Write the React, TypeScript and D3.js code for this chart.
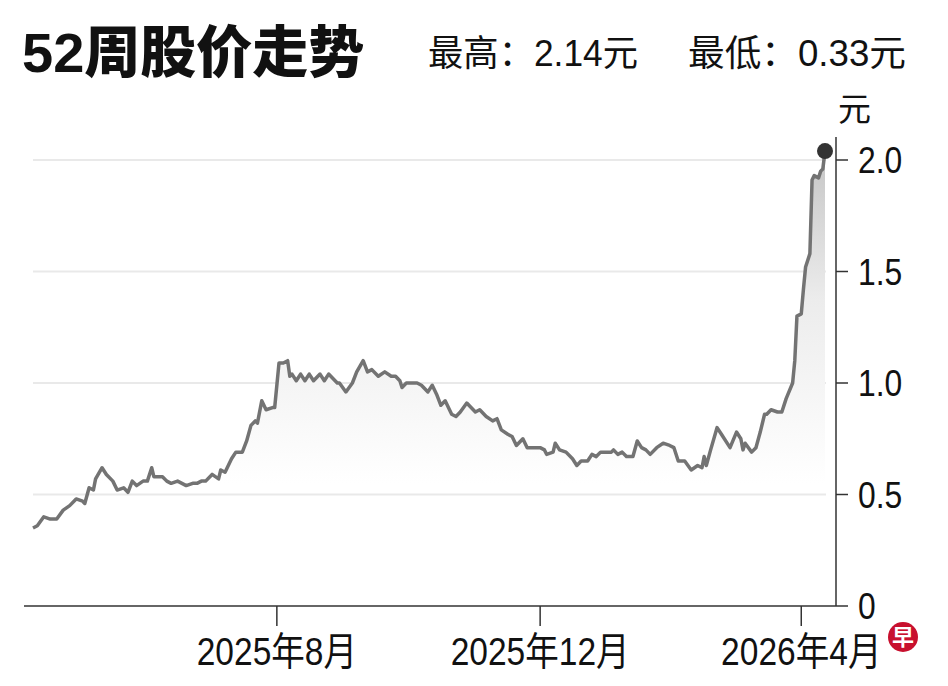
import * as d3 from "d3";

const DATES = [
  "2025-04-10", "2025-04-12", "2025-04-15", "2025-04-18", "2025-04-21", "2025-04-24", "2025-04-27", "2025-04-30",
  "2025-05-03", "2025-05-04", "2025-05-06", "2025-05-08", "2025-05-09", "2025-05-12", "2025-05-14", "2025-05-17",
  "2025-05-19", "2025-05-22", "2025-05-24", "2025-05-26", "2025-05-28", "2025-05-31", "2025-06-02", "2025-06-04",
  "2025-06-05", "2025-06-09", "2025-06-11", "2025-06-13", "2025-06-16", "2025-06-18", "2025-06-20", "2025-06-23",
  "2025-06-25", "2025-06-27", "2025-06-29", "2025-07-02", "2025-07-05", "2025-07-06", "2025-07-08", "2025-07-11",
  "2025-07-13", "2025-07-16", "2025-07-18", "2025-07-20", "2025-07-22", "2025-07-23", "2025-07-25", "2025-07-27",
  "2025-07-30", "2025-07-31", "2025-08-02", "2025-08-04", "2025-08-06", "2025-08-07", "2025-08-08", "2025-08-10",
  "2025-08-12", "2025-08-14", "2025-08-16", "2025-08-18", "2025-08-21", "2025-08-23", "2025-08-25", "2025-08-29",
  "2025-08-30", "2025-09-02", "2025-09-05", "2025-09-07", "2025-09-10", "2025-09-12", "2025-09-14", "2025-09-17",
  "2025-09-20", "2025-09-23", "2025-09-25", "2025-09-27", "2025-09-28", "2025-09-30", "2025-10-02", "2025-10-05",
  "2025-10-07", "2025-10-10", "2025-10-12", "2025-10-14", "2025-10-16", "2025-10-18", "2025-10-21", "2025-10-23",
  "2025-10-25", "2025-10-28", "2025-10-30", "2025-11-01", "2025-11-03", "2025-11-06", "2025-11-09", "2025-11-11",
  "2025-11-13", "2025-11-16", "2025-11-18", "2025-11-20", "2025-11-23", "2025-11-25", "2025-11-27", "2025-12-01",
  "2025-12-03", "2025-12-04", "2025-12-07", "2025-12-08", "2025-12-10", "2025-12-13", "2025-12-16", "2025-12-18",
  "2025-12-20", "2025-12-23", "2025-12-25", "2025-12-27", "2025-12-29", "2026-01-01", "2026-01-03", "2026-01-04",
  "2026-01-06", "2026-01-08", "2026-01-10", "2026-01-13", "2026-01-15", "2026-01-17", "2026-01-19", "2026-01-21",
  "2026-01-24", "2026-01-27", "2026-01-30", "2026-02-01", "2026-02-03", "2026-02-06", "2026-02-09", "2026-02-12",
  "2026-02-14", "2026-02-15", "2026-02-16", "2026-02-18", "2026-02-21", "2026-02-23", "2026-02-27", "2026-03-02",
  "2026-03-04", "2026-03-05", "2026-03-06", "2026-03-09", "2026-03-11", "2026-03-13", "2026-03-15", "2026-03-16",
  "2026-03-18", "2026-03-21", "2026-03-23", "2026-03-25", "2026-03-28", "2026-03-29", "2026-03-30", "2026-04-01",
  "2026-04-02", "2026-04-03", "2026-04-05", "2026-04-06", "2026-04-07", "2026-04-09", "2026-04-10", "2026-04-11",
  "2026-04-12",
];

const PRICES = [
  0.35, 0.36, 0.40, 0.39, 0.39, 0.43, 0.45, 0.48,
  0.47, 0.46, 0.53, 0.52, 0.57, 0.62, 0.59, 0.56,
  0.52, 0.53, 0.51, 0.56, 0.54, 0.56, 0.56, 0.62,
  0.58, 0.58, 0.56, 0.55, 0.56, 0.55, 0.54, 0.55,
  0.55, 0.56, 0.56, 0.59, 0.57, 0.61, 0.60, 0.66,
  0.69, 0.69, 0.74, 0.81, 0.83, 0.82, 0.92, 0.88,
  0.89, 0.89, 1.09, 1.09, 1.10, 1.03, 1.04, 1.01,
  1.04, 1.01, 1.04, 1.01, 1.04, 1.01, 1.04, 1.00,
  1.00, 0.96, 1.00, 1.05, 1.10, 1.05, 1.06, 1.03,
  1.05, 1.03, 1.03, 1.01, 0.98, 1.00, 1.00, 1.00,
  0.99, 0.96, 0.99, 0.95, 0.90, 0.92, 0.86, 0.85,
  0.87, 0.91, 0.89, 0.87, 0.88, 0.85, 0.83, 0.84,
  0.79, 0.77, 0.76, 0.72, 0.75, 0.71, 0.71, 0.71,
  0.70, 0.68, 0.69, 0.73, 0.70, 0.69, 0.66, 0.63,
  0.65, 0.65, 0.68, 0.67, 0.69, 0.69, 0.69, 0.70,
  0.68, 0.69, 0.67, 0.67, 0.74, 0.71, 0.70, 0.68,
  0.71, 0.73, 0.72, 0.71, 0.65, 0.65, 0.61, 0.63,
  0.62, 0.67, 0.63, 0.70, 0.80, 0.77, 0.71, 0.78,
  0.75, 0.70, 0.73, 0.69, 0.71, 0.78, 0.86, 0.86,
  0.88, 0.87, 0.87, 0.93, 1.00, 1.10, 1.30, 1.31,
  1.42, 1.52, 1.58, 1.91, 1.93, 1.92, 1.95, 1.96,
  2.04,
];

const Y_TICKS = [0, 0.5, 1.0, 1.5, 2.0];
const GRID_VALUES = [0.5, 1.0, 1.5, 2.0];
const X_TICKS = ["2025-08-01", "2025-12-01", "2026-04-01"];
const TITLE = "52周股价走势";
const HIGH_LABEL = "最高：2.14元";
const LOW_LABEL = "最低：0.33元";
const UNIT = "元";

const W = 948;
const H = 686;
const FONT = "'Liberation Sans', Arial, 'Noto Sans CJK SC', sans-serif";

// squeeze text horizontally to mimic the condensed face of the original
const squeeze = (s: string, size: number) => {
  let w = 0;
  for (const ch of s) w += /[0-9]/.test(ch) ? 0.556 : ch === "." ? 0.278 : 1;
  return w * size * 0.86;
};

export default function App() {
  const parse = d3.timeParse("%Y-%m-%d");
  const data = DATES.map((d, i) => ({ date: parse(d) as Date, v: PRICES[i] }));

  const x = d3
    .scaleTime()
    .domain(d3.extent(data, (d) => d.date) as [Date, Date])
    .range([33, 825]);
  const y = d3.scaleLinear().domain([0, 2]).range([606, 160]);

  const axisX = 836;
  const base = 0.55;

  const line = d3
    .line<{ date: Date; v: number }>()
    .x((d) => x(d.date))
    .y((d) => y(d.v));

  const area = d3
    .area<{ date: Date; v: number }>()
    .x((d) => x(d.date))
    .y1((d) => y(d.v))
    .y0((d) => Math.max(y(d.v), y(base)));

  const last = data[data.length - 1];

  return (
    <svg
      width={W}
      height={H}
      style={{ position: "absolute", left: 0, top: 0, background: "#fff" }}
      fontFamily={FONT}
    >
      <defs>
        <linearGradient id="fade" x1="0" x2="0" y1={y(2.05)} y2={y(base)} gradientUnits="userSpaceOnUse">
          <stop offset="0%" stopColor="#c4c4c4" />
          <stop offset="45%" stopColor="#ececec" />
          <stop offset="100%" stopColor="#ffffff" />
        </linearGradient>
      </defs>

      <text x={22} y={72} fontSize={56} fontWeight={900} fill="#111">
        {TITLE}
      </text>
      <text x={428} y={66} fontSize={36} fill="#111" textLength={210} lengthAdjust="spacingAndGlyphs">
        {HIGH_LABEL}
      </text>
      <text x={688} y={66} fontSize={36} fill="#111" textLength={218} lengthAdjust="spacingAndGlyphs">
        {LOW_LABEL}
      </text>
      <text x={838} y={121} fontSize={33} fill="#111">{UNIT}</text>

      {GRID_VALUES.map((g) => (
        <line key={g} x1={33} x2={826} y1={y(g)} y2={y(g)} stroke="#e9e9e9" strokeWidth={2} />
      ))}

      <path d={area(data) ?? ""} fill="url(#fade)" />
      <path d={line(data) ?? ""} fill="none" stroke="#737373" strokeWidth={3.5} strokeLinejoin="round" />
      <circle cx={x(last.date)} cy={y(last.v)} r={8} fill="#333" />

      <line x1={24} x2={axisX} y1={y(0)} y2={y(0)} stroke="#333" strokeWidth={1.5} />
      <line x1={axisX} x2={axisX} y1={137} y2={y(0)} stroke="#333" strokeWidth={1.5} />

      {Y_TICKS.map((t) => {
        const label = t === 0 ? "0" : d3.format(".1f")(t);
        return (
          <g key={t}>
            <line x1={axisX} x2={848} y1={y(t)} y2={y(t)} stroke="#333" strokeWidth={1.5} />
            <text x={858} y={y(t)} dy="0.36em" fontSize={37} fill="#111"
              textLength={squeeze(label, 37)} lengthAdjust="spacingAndGlyphs">
              {label}
            </text>
          </g>
        );
      })}

      {X_TICKS.map((s) => {
        const dt = parse(s) as Date;
        const px = x(dt);
        const label = `${dt.getFullYear()}年${dt.getMonth() + 1}月`;
        return (
          <g key={s}>
            <line x1={px} x2={px} y1={y(0)} y2={626} stroke="#333" strokeWidth={1.5} />
            <text x={px} y={665} textAnchor="middle" fontSize={39} fill="#111"
              textLength={squeeze(label, 39)} lengthAdjust="spacingAndGlyphs">
              {label}
            </text>
          </g>
        );
      })}

      <circle cx={903} cy={637} r={15} fill="#c8102e" />
      <text x={903} y={637} dy="0.36em" textAnchor="middle" fontSize={22} fontWeight={700} fill="#fff"
        fontFamily="'Noto Sans CJK SC', sans-serif">
        早
      </text>
    </svg>
  );
}
